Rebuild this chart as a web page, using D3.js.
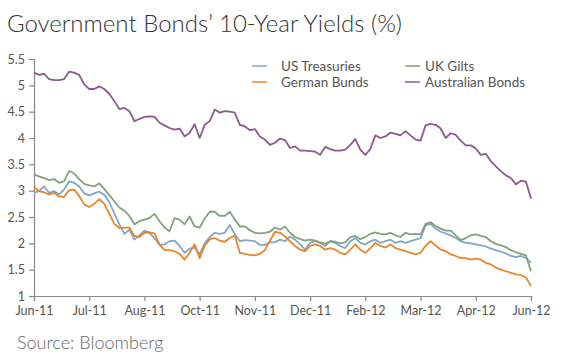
<!DOCTYPE html>
<html>
<head>
<meta charset="utf-8">
<script src="https://cdn.jsdelivr.net/npm/d3@7"></script>
<style>
  body { margin: 0; background: #fff; }
  svg { display: block; font-family: Lato, "Open Sans", sans-serif; }
</style>
</head>
<body>
<div id="chart"></div>
<script>
// Подписи оси X (метки стоят на равных интервалах)
const tickLabels = ["Jun-11", "Jul-11", "Aug-11", "Oct-11", "Nov-11", "Dec-11", "Feb-12", "Mar-12", "Apr-12", "Jun-12"];
const yTicks = [1, 1.5, 2, 2.5, 3, 3.5, 4, 4.5, 5, 5.5];

// Доходности (100 точек на серию)
const usTreasuries = [
  2.96, 2.99, 3.08, 2.96, 2.99, 2.93, 3.02, 3.18, 3.15, 3.08,
  2.95, 2.91, 2.95, 2.98, 2.92, 2.78, 2.57, 2.36, 2.18, 2.26,
  2.07, 2.15, 2.24, 2.20, 2.10, 1.97, 1.98, 2.04, 2.05, 1.95,
  1.82, 1.90, 1.92, 1.79, 2.00, 2.12, 2.20, 2.18, 2.20, 2.35,
  2.17, 2.04, 2.06, 2.05, 2.04, 1.97, 1.97, 2.02, 2.02, 2.07,
  2.04, 2.13, 2.07, 1.98, 1.88, 2.01, 2.04, 2.01, 1.95, 2.04,
  2.01, 1.95, 1.91, 2.04, 2.10, 2.01, 1.98, 2.04, 2.07, 2.01,
  2.04, 2.07, 2.01, 2.04, 2.01, 2.04, 2.07, 2.10, 2.34, 2.37,
  2.28, 2.22, 2.19, 2.15, 2.10, 2.04, 2.01, 2.00, 1.98, 1.96,
  1.94, 1.90, 1.87, 1.84, 1.81, 1.76, 1.74, 1.76, 1.72, 1.63
];
const germanBunds = [
  3.07, 2.99, 2.97, 2.93, 2.96, 2.89, 2.88, 3.01, 3.02, 2.90,
  2.74, 2.69, 2.75, 2.84, 2.75, 2.56, 2.37, 2.29, 2.30, 2.30,
  2.14, 2.12, 2.20, 2.21, 2.19, 1.98, 1.87, 1.87, 1.85, 1.80,
  1.69, 1.82, 1.98, 1.72, 1.95, 2.08, 2.10, 2.05, 2.03, 2.10,
  2.15, 1.82, 1.80, 1.78, 1.77, 1.80, 1.87, 2.05, 2.22, 2.20,
  2.13, 2.04, 1.95, 1.88, 1.85, 1.95, 1.98, 1.95, 1.88, 1.91,
  1.88, 1.82, 1.79, 1.88, 1.98, 1.88, 1.82, 1.91, 2.01, 1.95,
  1.92, 1.98, 1.91, 1.88, 1.85, 1.82, 1.79, 1.82, 1.95, 2.04,
  1.96, 1.88, 1.85, 1.79, 1.76, 1.72, 1.72, 1.69, 1.71, 1.69,
  1.63, 1.60, 1.54, 1.50, 1.47, 1.44, 1.41, 1.40, 1.35, 1.19
];
const ukGilts = [
  3.31, 3.27, 3.24, 3.20, 3.22, 3.15, 3.18, 3.37, 3.33, 3.22,
  3.13, 3.10, 3.08, 3.14, 3.03, 2.92, 2.80, 2.68, 2.62, 2.52,
  2.36, 2.42, 2.45, 2.48, 2.56, 2.42, 2.30, 2.23, 2.48, 2.45,
  2.36, 2.51, 2.32, 2.30, 2.47, 2.60, 2.60, 2.52, 2.52, 2.60,
  2.45, 2.32, 2.32, 2.25, 2.20, 2.19, 2.20, 2.22, 2.30, 2.26,
  2.32, 2.20, 2.12, 2.08, 2.05, 2.07, 2.05, 2.02, 1.99, 2.04,
  2.03, 2.00, 2.02, 2.12, 2.14, 2.08, 2.12, 2.18, 2.21, 2.18,
  2.17, 2.20, 2.15, 2.12, 2.20, 2.17, 2.18, 2.17, 2.37, 2.40,
  2.33, 2.28, 2.24, 2.24, 2.15, 2.06, 2.10, 2.15, 2.17, 2.14,
  2.12, 2.04, 1.99, 1.96, 1.93, 1.87, 1.83, 1.80, 1.77, 1.47
];
const australianBonds = [
  5.24, 5.20, 5.22, 5.12, 5.10, 5.10, 5.12, 5.26, 5.24, 5.20,
  5.02, 4.93, 4.93, 4.98, 4.93, 4.84, 4.70, 4.55, 4.57, 4.51,
  4.32, 4.36, 4.40, 4.41, 4.40, 4.29, 4.24, 4.19, 4.16, 4.18,
  4.03, 4.10, 4.26, 4.00, 4.25, 4.32, 4.54, 4.48, 4.51, 4.50,
  4.48, 4.25, 4.22, 4.15, 4.17, 4.03, 3.97, 3.87, 3.91, 3.99,
  3.96, 3.81, 3.84, 3.76, 3.76, 3.75, 3.74, 3.68, 3.83, 3.79,
  3.76, 3.76, 3.78, 3.87, 3.98, 3.78, 3.68, 3.79, 4.05, 4.00,
  4.03, 4.10, 4.08, 4.05, 4.13, 4.05, 3.97, 3.95, 4.24, 4.27,
  4.25, 4.18, 4.00, 4.09, 4.06, 3.95, 3.86, 3.86, 3.80, 3.68,
  3.70, 3.56, 3.46, 3.37, 3.29, 3.24, 3.12, 3.19, 3.17, 2.85
];

const seriesNames = ["US Treasuries", "UK Gilts", "German Bunds", "Australian Bonds"];
const seriesValues = [usTreasuries, ukGilts, germanBunds, australianBonds];
const seriesColors = ["#80a6c8", "#85a07a", "#e8862c", "#8c5a8c"];

const width = 562, height = 362;
const margin = {top: 59, right: 31, bottom: 66, left: 34};

const svg = d3.select("#chart")
    .append("svg")
    .attr("width", width)
    .attr("height", height);

// Заголовок и источник
svg.append("text")
    .attr("x", 7)
    .attr("y", 32)
    .style("font-size", "24px")
    .style("font-weight", 300)
    .style("fill", "#333")
    .text("Government Bonds\u2019 10-Year Yields (%)");

svg.append("text")
    .attr("x", 17)
    .attr("y", 349)
    .style("font-size", "18px")
    .style("font-weight", 300)
    .style("fill", "#666")
    .text("Source: Bloomberg");

// Шкалы
const n = usTreasuries.length;
const x = d3.scaleLinear()
    .domain([0, n - 1])
    .range([margin.left, width - margin.right]);
const y = d3.scaleLinear()
    .domain([1, 5.5])
    .range([height - margin.bottom, margin.top]);

const tickIdx = tickLabels.map((d, i) => i * (n - 1) / (tickLabels.length - 1));

// Оси
const xAxis = svg.append("g")
    .attr("transform", `translate(0,${height - margin.bottom})`)
    .call(d3.axisBottom(x).tickValues(tickIdx).tickFormat((d, i) => tickLabels[i]).tickSizeOuter(0).tickSize(5).tickPadding(5));

const yAxis = svg.append("g")
    .attr("transform", `translate(${margin.left},0)`)
    .call(d3.axisLeft(y).tickValues(yTicks).tickFormat(d => d).tickSizeOuter(0).tickSize(5).tickPadding(4));

[xAxis, yAxis].forEach(g => {
    g.select(".domain").attr("stroke", "#888").attr("stroke-width", 1.2);
    g.selectAll(".tick line").attr("stroke", "#888").attr("stroke-width", 1.2);
    g.selectAll(".tick text")
        .style("font-size", "12.5px")
        .style("font-family", "Lato, sans-serif")
        .style("fill", "#555");
});

// Линии
const line = d3.line()
    .x((d, i) => x(i))
    .y(d => y(d));

seriesValues.forEach((vals, k) => {
    svg.append("path")
        .datum(vals)
        .attr("fill", "none")
        .attr("stroke", seriesColors[k])
        .attr("stroke-width", 1.8)
        .attr("stroke-linejoin", "round")
        .attr("d", line);
});

// Легенда (2 колонки)
const legendPos = [[252, 66, 29], [405, 66, 20], [252, 82, 29], [405, 82, 20]];
seriesNames.forEach((name, k) => {
    const g = svg.append("g")
        .attr("transform", `translate(${legendPos[k][0]},${legendPos[k][1]})`);
    g.append("line")
        .attr("x1", 0).attr("x2", 15)
        .attr("stroke", seriesColors[k])
        .attr("stroke-width", 1.5);
    g.append("text")
        .attr("x", legendPos[k][2])
        .attr("y", 0)
        .attr("dy", "0.35em")
        .style("font-size", "13.5px")
        .style("fill", "#555")
        .text(name);
});
</script>
</body>
</html>
